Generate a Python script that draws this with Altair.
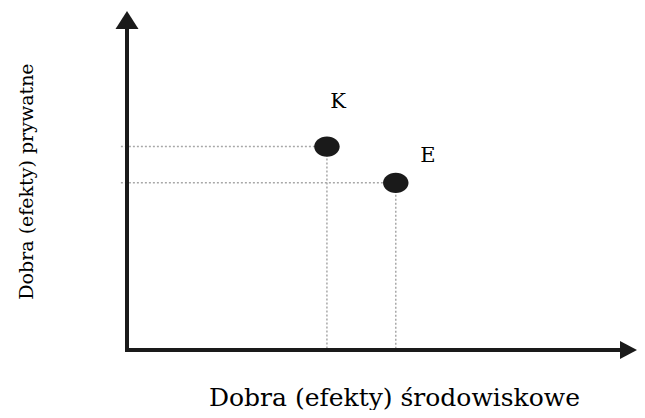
import altair as alt
import pandas as pd

# point data
names = ["K", "E"]
px = [39.2, 52.7]
py = [60.0, 49.3]
label_x = [41.4, 59.0]
label_y = [71.4, 55.5]

# axis geometry (data units)
x_max = 100
y_max = 100
x_arrow_base = 97.2
y_arrow_base = 94.8
guide_start_x = -1.2

x_title = "Dobra (efekty) środowiskowe"
y_title = "Dobra (efekty) prywatne"

FONT = "DejaVu Serif"

xs = alt.Scale(domain=[0, x_max], nice=False, zero=False)
ys = alt.Scale(domain=[0, y_max], nice=False, zero=False)

pts = pd.DataFrame({"name": names, "x": px, "y": py, "lx": label_x, "ly": label_y})

# guide (dotted) segments
hseg = pd.DataFrame({"x": [guide_start_x] * 2, "x2": px, "y": py, "y2": py})
vseg = pd.DataFrame({"x": px, "x2": px, "y": py, "y2": [0, 0]})
guides = pd.concat([hseg, vseg], ignore_index=True)

axes_lines = pd.DataFrame({
    "x": [0, 0], "x2": [x_arrow_base, 0],
    "y": [0, 0], "y2": [0, y_arrow_base],
})
arrows_up = pd.DataFrame({"x": [0], "y": [y_max]})
arrows_right = pd.DataFrame({"x": [x_max], "y": [0]})

x_axis = alt.Axis(title=x_title, domain=False, ticks=False, labels=False, grid=False,
                  titleFont=FONT, titleFontSize=25, titleFontWeight="normal",
                  titleColor="black", titleX=267, titleY=55, titleAlign="center",
                  titleBaseline="alphabetic")
y_axis = alt.Axis(title=y_title, domain=False, ticks=False, labels=False, grid=False,
                  titleFont=FONT, titleFontSize=19, titleFontWeight="normal",
                  titleColor="black", titleX=-95, titleY=170, titleAngle=270,
                  titleAlign="center", titleBaseline="alphabetic")

guide_layer = alt.Chart(guides).mark_rule(
    color="#a8a8a8", strokeWidth=1.5, strokeDash=[2, 2]
).encode(
    x=alt.X("x:Q", scale=xs, axis=x_axis), x2="x2:Q",
    y=alt.Y("y:Q", scale=ys, axis=y_axis), y2="y2:Q",
)

axis_layer = alt.Chart(axes_lines).mark_rule(
    color="#1a1a1a", strokeWidth=4, strokeCap="square"
).encode(x=alt.X("x:Q", scale=xs), x2="x2:Q", y=alt.Y("y:Q", scale=ys), y2="y2:Q")

up_layer = alt.Chart(arrows_up).mark_point(
    shape="M0,0 L1,1.565 L-1,1.565 Z", size=529, filled=True, opacity=1,
    color="#1a1a1a", strokeWidth=0
).encode(x=alt.X("x:Q", scale=xs), y=alt.Y("y:Q", scale=ys))

right_layer = alt.Chart(arrows_right).mark_point(
    shape="M0,0 L-1.7,-0.9 L-1.7,0.9 Z", size=400, filled=True, opacity=1,
    color="#1a1a1a", strokeWidth=0
).encode(x=alt.X("x:Q", scale=xs), y=alt.Y("y:Q", scale=ys))

dots = alt.Chart(pts).mark_point(
    shape="M-1,0 A1,0.8 0 1,1 1,0 A1,0.8 0 1,1 -1,0 Z", size=650, filled=True,
    opacity=1, color="#1a1a1a", strokeWidth=0
).encode(x=alt.X("x:Q", scale=xs), y=alt.Y("y:Q", scale=ys))

labels = alt.Chart(pts).mark_text(
    font=FONT, fontSize=21, color="black", align="center", baseline="alphabetic"
).encode(x=alt.X("lx:Q", scale=xs), y=alt.Y("ly:Q", scale=ys), text="name:N")

chart = alt.layer(guide_layer, axis_layer, up_layer, right_layer, dots, labels).properties(
    width=510, height=339,
    autosize=alt.AutoSizeParams(type="none"),
    padding={"left": 119, "top": 3, "right": 0, "bottom": 60},
).configure(background="white", font=FONT).configure_view(stroke="transparent", strokeWidth=0)

chart.save("out.html", embed_options={"renderer": "svg", "actions": False})
